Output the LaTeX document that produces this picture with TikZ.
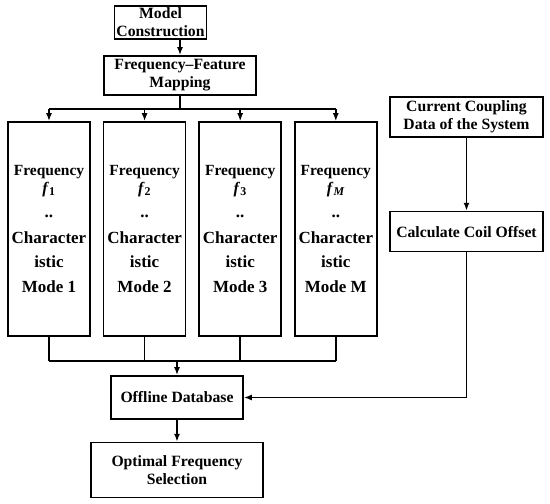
\documentclass[tikz,border=0pt]{standalone}
\usepackage{fontspec}
\setmainfont{Liberation Serif}[BoldItalicFont={Liberation Serif Bold Italic}]
\usepackage{tikz}
\usetikzlibrary{arrows.meta, positioning, calc}
\tikzset{
  box/.style={
    rectangle, draw, line width=1.6pt, inner sep=2pt,
    align=center, font=\fontsize{15.7}{18}\selectfont\bfseries
  },
  modebox/.style={box, minimum width=82pt, minimum height=214pt,
    font=\fontsize{17}{25}\selectfont\bfseries},
  arr/.style={-{Latex[length=8pt,width=6pt]}, line width=1.6pt},
  ln/.style={line width=1.6pt}
}
\newcommand{\freqmode}[2]{%
  {\fontsize{15.5}{18}\selectfont Frequency}\\[-7.5pt]
  {\fontsize{16}{18}\selectfont\bfseries\itshape f\/}\textsubscript{#1}\\[-0.5pt]
  ..\\[0.5pt] Character\\[-1pt] istic\\ Mode #2}

\begin{document}
\begin{tikzpicture}[x=1pt, y=-1pt]
  \fill[white] (0,0) rectangle (550,504);
  \useasboundingbox (0,0) rectangle (550,504);

  \node[box, minimum width=87pt, minimum height=33pt] (model) at (160.5,22.5)
        {Model\\Construction};
  \node[box, minimum width=152pt, minimum height=39pt] (map) at (180,75.5)
        {Frequency--Feature\\Mapping};

  % characteristic modes
  \node[modebox] (col1) at (49,229) {\freqmode{1}{1}};
  \node[modebox, right=12pt of col1] (col2) {\freqmode{2}{2}};
  \node[modebox, right=12pt of col2] (col3) {\freqmode{3}{3}};
  \node[modebox, right=12pt of col3] (col4) {\freqmode{\itshape M}{M}};

  \node[box, minimum width=153pt, minimum height=40pt] (curr) at (466.5,117)
        {Current Coupling\\Data of the System};
  \node[box, minimum width=153pt, minimum height=40pt, below=73pt of curr] (calc)
        {Calculate Coil Offset};

  \node[box, minimum width=132pt, minimum height=43pt] (db) at (177,397.5)
        {Offline Database};
  \node[box, minimum width=172pt, minimum height=55pt, below=22pt of db] (opt)
        {Optimal Frequency\\Selection};

  \draw[arr] (model.south -| map.north) -- (map.north);
  \draw[ln] (map.south) -- ++(0,13) coordinate (split);
  \draw[ln] (split -| col1.north) -- (split -| col4.north);
  \foreach \i in {1,...,4}
    \draw[arr] (split -| col\i.north) -- (col\i.north);

  \coordinate (merge) at ($(col1.south)+(0,24)$);
  \foreach \i in {1,...,4}
    \draw[ln] (col\i.south) -- (merge -| col\i.south);
  \draw[ln] (merge) -- (merge -| col4.south);
  \draw[arr] (merge -| db.north) -- (db.north);
  \draw[arr] (db) -- (opt);

  \draw[arr] (curr) -- (calc);
  \draw[arr] (calc.south) |- (db.east);

\end{tikzpicture}
\end{document}
